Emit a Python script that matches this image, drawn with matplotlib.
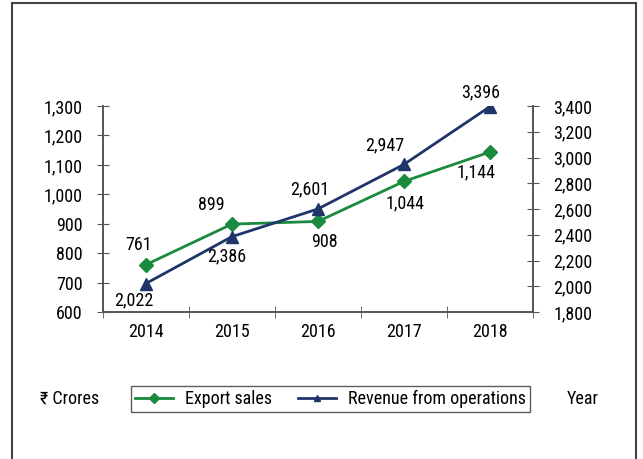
import matplotlib.pyplot as plt
from matplotlib.lines import Line2D

plt.rcParams['font.family'] = ['Roboto Condensed', 'DejaVu Sans']

years = ['2014', '2015', '2016', '2017', '2018']
export_sales = [761, 899, 908, 1044, 1144]
revenue = [2022, 2386, 2601, 2947, 3396]

green = '#1a8a3e'
navy = '#1f3468'
grey = '#555555'

fig = plt.figure(figsize=(6.43, 4.59), dpi=100)
ax = fig.add_axes([0.160, 0.320, 0.669, 0.449])
ax2 = ax.twinx()

x = list(range(len(years)))
l1, = ax.plot(x, export_sales, color=green, lw=2, marker='D', ms=7, label='Export sales')
l2, = ax2.plot(x, revenue, color=navy, lw=2, marker='^', ms=9, label='Revenue from operations')

ax.set_xlim(-0.5, 4.5)
ax.set_ylim(600, 1300)
ax2.set_ylim(1800, 3400)
ax.set_yticks(range(600, 1301, 100))
ax2.set_yticks(range(1800, 3401, 200))
ax.yaxis.set_major_formatter(plt.FuncFormatter(lambda v, p: f'{int(v):,}'))
ax2.yaxis.set_major_formatter(plt.FuncFormatter(lambda v, p: f'{int(v):,}'))
ax.set_xticks(x)
ax.set_xticklabels(years)
ax.set_xticks([i - 0.5 for i in range(len(years) + 1)], minor=True)
ax.tick_params(axis='x', which='major', length=0, pad=8, labelsize=13)
ax.tick_params(axis='x', which='minor', direction='inout', length=9, color=grey)
ax.tick_params(axis='y', direction='inout', length=9, color=grey, labelsize=13, pad=10)
ax2.tick_params(axis='y', direction='inout', length=9, color=grey, labelsize=13, pad=10)

for a in (ax, ax2):
    a.spines['top'].set_visible(False)
    for s in ('left', 'right', 'bottom'):
        a.spines[s].set_color(grey)
        a.spines[s].set_linewidth(1.2)

# value labels (offsets in points)
ex_off = [(-5, 14), (-15, 14), (5, -15), (1, -16), (-10, -15)]
rv_off = [(-9, -12), (-4, -14), (-6, 14), (-14, 14), (-7, 10)]
for i, v in enumerate(export_sales):
    ax.annotate(f'{v:,}', (i, v), xytext=ex_off[i], textcoords='offset points',
                ha='center', va='center', fontsize=13)
for i, v in enumerate(revenue):
    ax2.annotate(f'{v:,}', (i, v), xytext=rv_off[i], textcoords='offset points',
                 ha='center', va='center', fontsize=13)

leg = fig.legend(handles=[l1, l2], loc='center', bbox_to_anchor=(0.514, 0.131),
                 ncol=2, frameon=True, fancybox=False, fontsize=13,
                 handlelength=2.1, handletextpad=0.7, columnspacing=1.4,
                 borderpad=0.2, borderaxespad=0)
leg.get_frame().set_edgecolor('#333333')
leg.get_frame().set_linewidth(1)
for h in leg.legend_handles:
    h.set_markersize(5)

fig.text(0.062, 0.131, '₹ Crores', fontsize=13, va='center', ha='left')
fig.text(0.882, 0.131, 'Year', fontsize=13, va='center', ha='left')

# outer border (no bottom edge)
bl, br, bt = 12 / 643, 636 / 643, 1 - 3 / 459
for xs, ys in [([bl, bl], [0, bt]), ([bl, br], [bt, bt]), ([br, br], [bt, 0])]:
    fig.add_artist(Line2D(xs, ys, color='#444444', lw=1.5))

fig.savefig('out.png', dpi=100)
